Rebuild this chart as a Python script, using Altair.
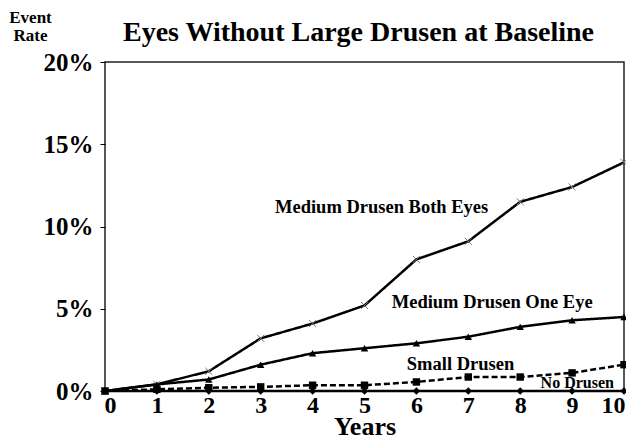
import altair as alt
import pandas as pd

years = list(range(11))
both_eyes = [0, 0.4, 1.2, 3.2, 4.1, 5.2, 8.0, 9.1, 11.5, 12.4, 13.9]
one_eye = [0, 0.4, 0.7, 1.6, 2.3, 2.6, 2.9, 3.3, 3.9, 4.3, 4.5]
small_drusen = [0, 0.1, 0.2, 0.25, 0.35, 0.35, 0.55, 0.85, 0.85, 1.1, 1.6]
no_drusen = [0.0] * 11

series_names = ["Medium Drusen Both Eyes", "Medium Drusen One Eye", "Small Drusen", "No Drusen"]

label_text = ["Medium Drusen Both Eyes", "Medium Drusen One Eye", "Small Drusen", "No Drusen"]
label_x = [5.33, 7.46, 6.85, 9.1]
label_y = [11.2, 5.4, 1.65, 0.5]
label_size = [18.5, 18.5, 18.5, 16]

rows = []
for name, vals in zip(series_names, [both_eyes, one_eye, small_drusen, no_drusen]):
    for yr, v in zip(years, vals):
        rows.append({"series": name, "year": yr, "rate": v})
df = pd.DataFrame(rows)
labels = pd.DataFrame({"text": label_text, "year": label_x, "rate": label_y, "size": label_size})

FONT = "Liberation Serif"

x_enc = alt.X("year:Q", scale=alt.Scale(domain=[0, 10], nice=False, zero=False),
              axis=alt.Axis(values=years, title="Years", labelFont=FONT, labelFontSize=24,
                            labelFontWeight="bold", labelColor="black", labelPadding=2,
                            labelOffset={"condition": [{"test": "datum.value == 0", "value": 5},
                                                       {"test": "datum.value == 10", "value": -11}],
                                         "value": 0},
                            ticks=False, domain=False, grid=False, labelFlush=False,
                            titleFont=FONT, titleFontSize=26, titleFontWeight="bold",
                            titleColor="black", titleBaseline="alphabetic", titleY=43))
y_enc = alt.Y("rate:Q", scale=alt.Scale(domain=[0, 20], nice=False),
              axis=alt.Axis(values=[0, 5, 10, 15, 20], labelExpr="datum.value + '%'",
                            labelFont=FONT, labelFontSize=25, labelFontWeight="bold",
                            labelColor="black", tickSize=5, tickColor="black", labelPadding=7,
                            domain=False, grid=False,
                            title=["Event", "Rate"], titleAngle=0, titleFont=FONT,
                            titleFontSize=17, titleFontWeight="bold", titleColor="black",
                            titleAlign="center", titleBaseline="top", titleX=-75, titleY=-53,
                            titleLineHeight=18))

lines = alt.Chart(df).mark_line(color="black", strokeWidth=2.5).encode(
    x=x_enc, y=y_enc, detail="series:N",
    strokeDash=alt.StrokeDash("series:N", scale=alt.Scale(domain=series_names,
                              range=[[1, 0], [1, 0], [6, 3], [1, 0]]), legend=None),
)

filled_pts = alt.Chart(df).transform_filter(
    alt.datum.series != "Medium Drusen Both Eyes"
).mark_point(filled=True, color="black", opacity=1).encode(
    x="year:Q", y="rate:Q",
    shape=alt.Shape("series:N", scale=alt.Scale(domain=series_names[1:],
                    range=["triangle-up", "square", "diamond"]), legend=None),
    size=alt.value(55),
)

x_pts = alt.Chart(df).transform_filter(
    alt.datum.series == "Medium Drusen Both Eyes"
).mark_point(shape="M-1,-1L1,1M-1,1L1,-1", filled=False, color="#777", strokeWidth=1, opacity=1).encode(
    x="year:Q", y="rate:Q", size=alt.value(50),
)

texts = alt.Chart(labels).mark_text(font=FONT, fontWeight="bold", color="black").encode(
    x="year:Q", y="rate:Q", text="text:N", size=alt.Size("size:Q", scale=None, legend=None),
)

chart = alt.layer(lines, x_pts, filled_pts, texts).properties(
    width=519, height=329,
    title=alt.TitleParams("Eyes Without Large Drusen at Baseline", font=FONT, fontSize=28,
                          fontWeight="bold", color="black", anchor="middle", offset=0,
                          baseline="alphabetic", dy=61, dx=-6),
    autosize=alt.AutoSizeParams(type="none"),
    padding={"left": 97, "top": 54, "right": 2, "bottom": 49},
).configure_view(stroke="#222", strokeWidth=1.5)

chart.save("out.html", embed_options={"renderer": "svg", "actions": False})
